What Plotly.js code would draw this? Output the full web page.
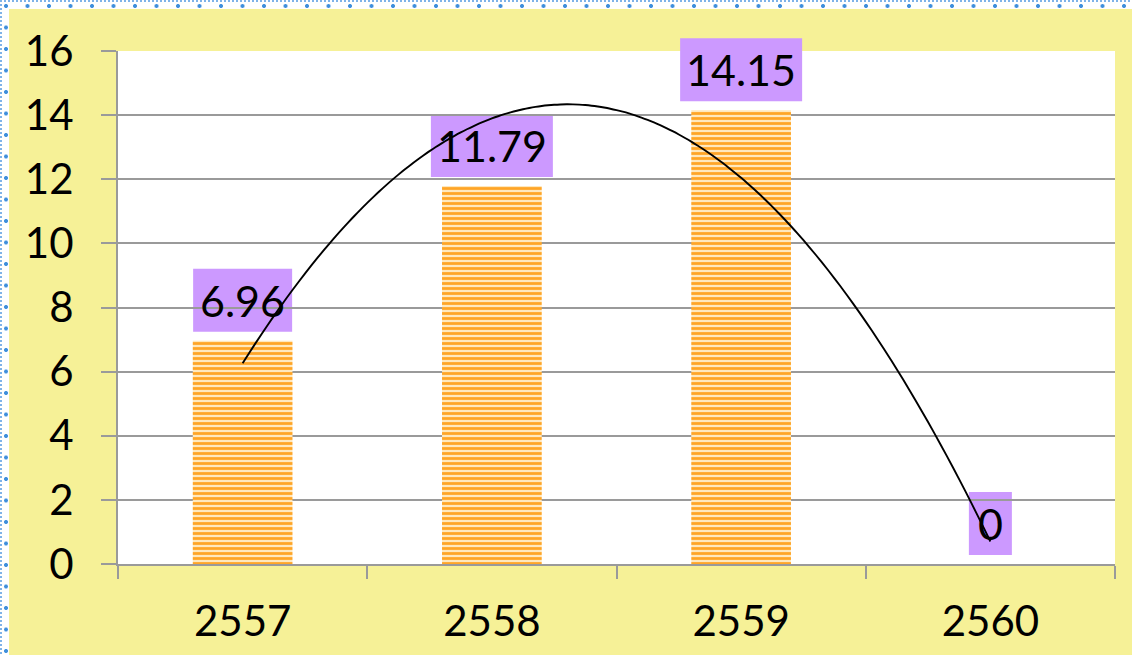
<!DOCTYPE html>
<html>
<head>
<meta charset="utf-8">
<script src="https://cdn.plot.ly/plotly-3.0.1.min.js"></script>
<style>
  html, body { margin:0; padding:0; background:#ffffff; }
  #wrap { position:relative; width:1132px; height:655px; overflow:hidden;
    background: radial-gradient(circle at 50% 50%, #3f8fdc 0 1.6px, rgba(63,143,220,0) 2.3px) -4.75px -4.75px / 21.5px 21.5px, #ffffff; }
  #topline { position:absolute; left:0; top:0; width:1132px; height:2px;
    background: repeating-linear-gradient(90deg, #7fb3e8 0 2px, rgba(0,0,0,0) 2px 4px); }
  #leftline { position:absolute; left:0; top:0; width:2px; height:655px;
    background: repeating-linear-gradient(180deg, #7fb3e8 0 2px, rgba(0,0,0,0) 2px 4px); }
  #chart { position:absolute; left:9px; top:9px; width:1123px; height:646px; }
</style>
</head>
<body>
<div id="wrap">
  <div id="topline"></div>
  <div id="leftline"></div>
  <div id="chart"></div>
</div>
<script>
// ---- data ----
const years = ['2557', '2558', '2559', '2560'];
const values = [6.96, 11.79, 14.15, 0];
const valueLabels = ['6.96', '11.79', '14.15', '0'];
const yTicks = [0, 2, 4, 6, 8, 10, 12, 14, 16];

// category positions 1..n on a linear axis
const pos = years.map((_, i) => i + 1);
const boundaries = [0.5].concat(pos.map(p => p + 0.5));
const yMin = 0, yMax = 16;

// ---- polynomial (order 2) trendline fitted to the data, like a spreadsheet trendline ----
function polyfit2(xs, ys) {
  const n = xs.length;
  let s = [0,0,0,0,0], t = [0,0,0];
  for (let i = 0; i < n; i++) {
    for (let k = 0; k < 5; k++) s[k] += Math.pow(xs[i], k);
    for (let k = 0; k < 3; k++) t[k] += Math.pow(xs[i], k) * ys[i];
  }
  const A = [[s[0], s[1], s[2], t[0]], [s[1], s[2], s[3], t[1]], [s[2], s[3], s[4], t[2]]];
  for (let c = 0; c < 3; c++) {
    for (let r = c + 1; r < 3; r++) {
      const f = A[r][c] / A[c][c];
      for (let k = c; k < 4; k++) A[r][k] -= f * A[c][k];
    }
  }
  const coef = [0,0,0];
  for (let r = 2; r >= 0; r--) {
    let v = A[r][3];
    for (let k = r + 1; k < 3; k++) v -= A[r][k] * coef[k];
    coef[r] = v / A[r][r];
  }
  return coef;
}
const cf = polyfit2(pos, values);
const trendX = [], trendY = [];
for (let i = 0; i <= 120; i++) {
  const x = pos[0] + i * (pos[pos.length - 1] - pos[0]) / 120;
  trendX.push(x);
  trendY.push(cf[0] + cf[1] * x + cf[2] * x * x);
}

const FONT = 'Lato, "Open Sans", sans-serif';
const GRID = '#9a9a9a';

const traces = [
  {
    type: 'bar', x: pos, y: values, width: 0.4,
    marker: {
      color: '#ffe8bd',
      line: { width: 0 },
      pattern: { shape: '-', size: 5, solidity: 0.55, fgcolor: '#ffa526', bgcolor: '#ffe8bd', fillmode: 'replace' }
    },
    hoverinfo: 'y', showlegend: false
  },
  {
    type: 'scatter', mode: 'lines', x: trendX, y: trendY,
    line: { color: '#000000', width: 1.9, shape: 'spline' },
    hoverinfo: 'skip', showlegend: false
  }
];

// purple label boxes (under the trendline, over the gridlines)
function labelWidth(s) {
  let w = 0;
  for (const ch of s) w += (ch === '.') ? 10 : 23;
  return w + 20;
}
const shapes = pos.map((p, i) => {
  const w = labelWidth(valueLabels[i]);
  return {
    type: 'rect', layer: 'between',
    xref: 'x', yref: 'paper',
    xsizemode: 'pixel', ysizemode: 'pixel',
    xanchor: p, yanchor: (values[i] - yMin) / (yMax - yMin),
    x0: -w / 2, x1: w / 2, y0: 9, y1: 72,
    fillcolor: '#cc99ff', line: { width: 0 }
  };
});

const annotations = pos.map((p, i) => ({
  x: p, y: values[i], xref: 'x', yref: 'y',
  text: valueLabels[i], showarrow: false,
  xanchor: 'center', yanchor: 'middle', yshift: 40.5,
  font: { family: FONT, size: 43, color: '#000000' }
}));

const layout = {
  width: 1123, height: 646,
  margin: { l: 109, r: 17, t: 42, b: 91, pad: 0 },
  paper_bgcolor: '#f6f197',
  plot_bgcolor: '#ffffff',
  font: { family: FONT, color: '#000000' },
  showlegend: false,
  xaxis: {
    type: 'linear', range: [0.5, years.length + 0.5],
    tickmode: 'array', tickvals: pos, ticktext: years,
    showline: true, linecolor: GRID, linewidth: 2,
    ticks: '', showgrid: false, zeroline: false,
    minor: { tickmode: 'array', tickvals: boundaries, ticks: 'outside', ticklen: 13, tickwidth: 2, tickcolor: GRID, showgrid: false },
    ticklabelstandoff: 20,
    tickfont: { family: FONT, size: 42, color: '#000000' }
  },
  yaxis: {
    range: [yMin, yMax], tickmode: 'array', tickvals: yTicks, ticktext: yTicks.map(String),
    showline: true, linecolor: GRID, linewidth: 2,
    ticks: 'outside', ticklen: 15, tickwidth: 2, tickcolor: GRID,
    showgrid: true, gridcolor: GRID, gridwidth: 2, zeroline: false,
    ticklabelstandoff: 19,
    tickfont: { family: FONT, size: 42, color: '#000000' }
  },
  shapes: shapes,
  annotations: annotations
};

Plotly.newPlot('chart', traces, layout, { displayModeBar: false, staticPlot: true });
</script>
</body>
</html>
